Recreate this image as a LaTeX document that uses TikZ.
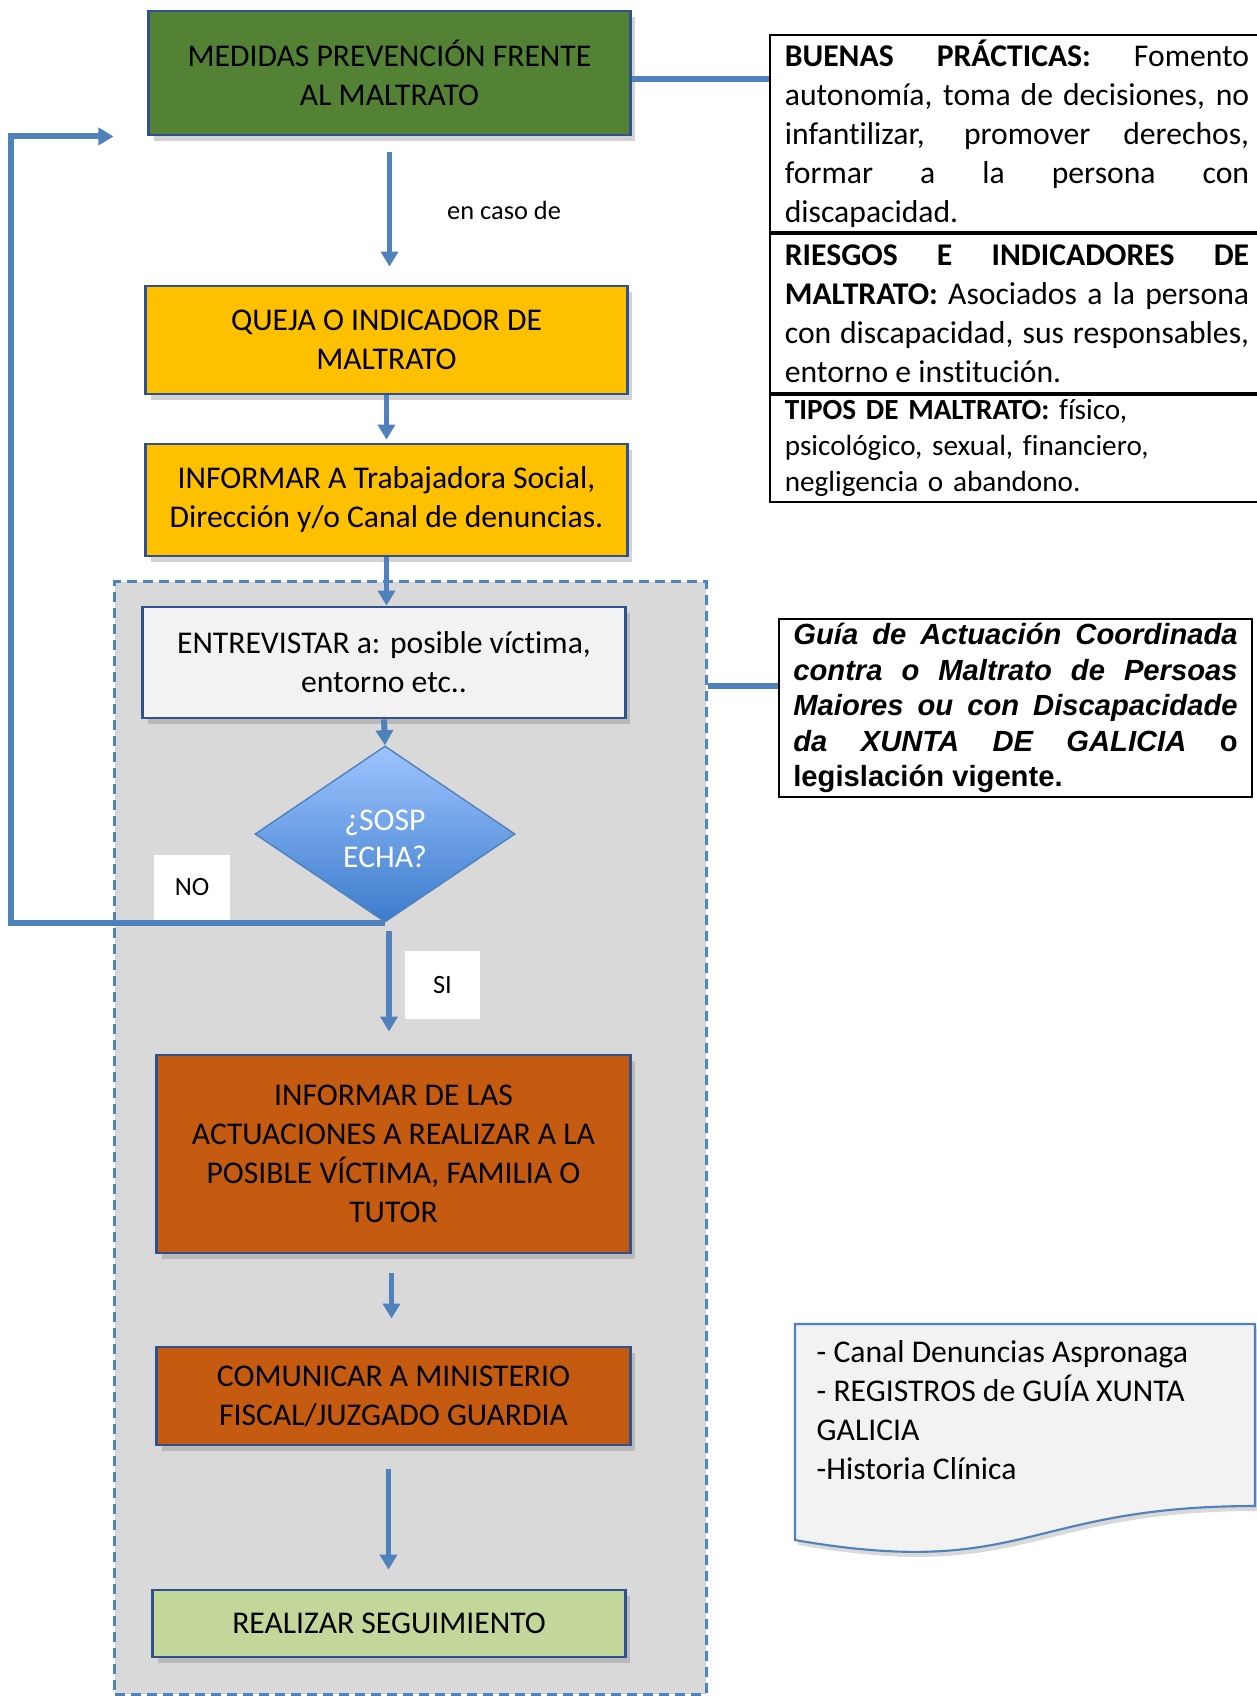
\documentclass[tikz,border=0pt]{standalone}
\usepackage{fontspec}
\setmainfont{Carlito}[Ligatures=NoCommon]
\newfontfamily\arialfont{Liberation Sans}
\usetikzlibrary{shapes.geometric, arrows.meta, positioning, calc, backgrounds, shadows}
\hyphenpenalty=10000
\exhyphenpenalty=10000
\tolerance=10000
\definecolor{flowblue}{RGB}{79,129,189}
\definecolor{edgeblue}{RGB}{47,82,143}
\definecolor{medidasgreen}{RGB}{84,130,53}
\definecolor{quejayellow}{RGB}{255,192,0}
\definecolor{paleface}{RGB}{242,242,242}
\definecolor{zonegray}{RGB}{217,217,217}
\definecolor{actionorange}{RGB}{197,90,17}
\definecolor{followgreen}{RGB}{196,215,155}
\definecolor{diamondtop}{RGB}{158,196,255}
\definecolor{diamondbottom}{RGB}{60,124,204}
\tikzset{
    box/.style={
        rectangle, draw=edgeblue, line width=0.8pt, text centered, align=center,
        inner sep=0pt, font=\fontsize{9}{11.1}\selectfont,
        drop shadow={shadow xshift=0.05cm, shadow yshift=-0.06cm, opacity=0.35}
    },
    decision/.style={
        diamond, draw=flowblue, line width=0.4pt, top color=diamondtop, bottom color=diamondbottom,
        text=white, align=center, inner sep=0pt, font=\fontsize{9}{10.5}\selectfont
    },
    zone/.style={
        rectangle, draw=flowblue, fill=zonegray, line width=0.85pt,
        dash pattern=on 0.1cm off 0.06cm
    },
    tablerow/.style={
        rectangle, draw=black, line width=0.5pt, text width=4.64cm, inner xsep=0.15cm,
        inner ysep=0pt, minimum width=4.94cm, align=justify,
        font=\fontsize{9}{11.1}\selectfont
    },
    notebox/.style={
        rectangle, draw=black, line width=0.6pt, text width=4.44cm, inner xsep=0.14cm,
        inner ysep=0pt, align=justify,
        font=\arialfont\bfseries\itshape\fontsize{8.3}{10.1}\selectfont
    },
    docshape/.style={
        draw=flowblue, fill=paleface, line width=0.6pt,
        drop shadow={shadow xshift=0.03cm, shadow yshift=-0.05cm, opacity=0.3}
    },
    doctext/.style={align=left, inner sep=0pt, font=\fontsize{9}{11.1}\selectfont},
    tag/.style={fill=white, inner sep=0pt, font=\fontsize{7.5}{9}\selectfont},
    flow/.style={draw=flowblue, line width=1.7pt, -{Triangle[length=0.15cm, width=0.17cm]}},
    link/.style={draw=flowblue, line width=1.5pt},
    casolabel/.style={font=\fontsize{7.5}{9}\selectfont}
}
\begin{document}
\begin{tikzpicture}[x=0.01cm, y=-0.01cm]
\useasboundingbox (0,0) rectangle (1256,1696);

% Main flow
\node[box, fill=medidasgreen, minimum width=4.81cm, minimum height=1.24cm] (medidas) at (389.5,73) {MEDIDAS PREVENCIÓN FRENTE\\AL MALTRATO};
\node[box, fill=quejayellow, minimum width=4.81cm, minimum height=1.08cm] (queja) at (386.5,340) {QUEJA O INDICADOR DE\\MALTRATO};
\node[box, fill=quejayellow, minimum width=4.81cm, minimum height=1.12cm] (informar) at (386.5,500) {INFORMAR A Trabajadora Social,\\Dirección y/o Canal de denuncias.};

% Interview zone
\node[box, fill=paleface, minimum width=4.82cm, minimum height=1.11cm] (entrevistar) at (384,662.5) {ENTREVISTAR a: posible víctima,\\entorno etc..};
\node[decision, minimum width=2.6cm, minimum height=1.76cm] (sospecha) at (385,834) {\raisebox{-0.08cm}[\height][\depth]{\begin{tabular}{@{}c@{}}¿SOSP\\ECHA?\end{tabular}}};
\node[tag, minimum width=0.76cm, minimum height=0.65cm] (no) at (192,887.5) {NO};
\node[tag, minimum width=0.75cm, minimum height=0.68cm] (si) at (442.5,985) {SI};
\node[box, fill=actionorange, minimum width=4.73cm, minimum height=1.98cm] (actuaciones) at (393.5,1154) {INFORMAR DE LAS\\ACTUACIONES A REALIZAR A LA\\POSIBLE VÍCTIMA, FAMILIA O\\TUTOR};
\node[box, fill=actionorange, minimum width=4.73cm, minimum height=0.98cm] (comunicar) at (393.5,1396) {COMUNICAR A MINISTERIO\\FISCAL/JUZGADO GUARDIA};
\node[box, fill=followgreen, minimum width=4.72cm, minimum height=0.67cm] (seguimiento) at (389,1623.5) {REALIZAR SEGUIMIENTO};

% Side table
\node[tablerow, minimum height=1.97cm] (buenas) at (1017,133.5) {\textbf{BUENAS PRÁCTICAS:} Fomento\linebreak autonomía, toma de decisiones, no\linebreak infantilizar, promover derechos,\linebreak formar a la persona con\linebreak discapacidad.};
\node[tablerow, minimum height=1.59cm, below=0pt of buenas] (riesgos) {\textbf{RIESGOS E INDICADORES DE}\linebreak \textbf{MALTRATO:} Asociados a la persona\linebreak con discapacidad, sus responsables,\linebreak entorno e institución.};
\node[tablerow, minimum height=1.07cm, below=0pt of riesgos, align=left, font=\fontsize{8.3}{10.2}\selectfont] (tipos) {\textbf{TIPOS DE MALTRATO:} físico,\\psicológico, sexual, financiero,\\negligencia o abandono.};

% Guide note
\node[notebox, minimum width=4.73cm, minimum height=1.78cm] (guia) at (1015.5,708) {Guía de Actuación Coordinada\linebreak contra o Maltrato de Persoas\linebreak Maiores ou con Discapacidade\linebreak da XUNTA DE GALICIA {\upshape o}\linebreak {\upshape legislación vigente.}};

% Records document
\draw[docshape] (795,1324) -- (1255,1324) -- (1255,1506) .. controls (1025,1506) and (1025,1580) .. (795,1540) -- cycle;
\node[doctext, anchor=north west] (registros) at (816,1340) {- Canal Denuncias Aspronaga\\- REGISTROS de GUÍA XUNTA\\GALICIA\\-Historia Clínica};

% Connections
\coordinate (retorno) at ($(medidas.south west)+(-34,0)$);
\coordinate (guiain) at ([yshift=0.22cm]guia.west);
\draw[flow, shorten <=0.16cm, shorten >=0.18cm] (medidas.south) -- (medidas.south |- queja.north) node[casolabel, midway, right=0.43cm] {en caso de};
\draw[flow, shorten >=0.03cm] (queja.south) -- (queja.south |- informar.north);
\draw[flow] (informar.south) -- (informar.south |- entrevistar.north);
\draw[flow] (entrevistar.south) -- (sospecha.north);
\draw[flow] (sospecha.south) -- ++(-374,0) |- (retorno);
\draw[flow, shorten <=0.08cm, shorten >=0.22cm] ([xshift=0.04cm]sospecha.south) -- ([xshift=0.04cm]sospecha.south |- actuaciones.north);
\draw[flow, shorten <=0.19cm, shorten >=0.27cm] ([xshift=-0.02cm]actuaciones.south) -- ([xshift=-0.02cm]actuaciones.south |- comunicar.north);
\draw[flow, shorten <=0.23cm, shorten >=0.19cm] ([xshift=-0.05cm]comunicar.south) -- ([xshift=-0.05cm]comunicar.south |- seguimiento.north);
\draw[link] ([yshift=-0.06cm]medidas.east) -- ([yshift=-0.06cm]medidas.east -| buenas.west);

% Zone background
\begin{scope}[on background layer]
\node[zone, minimum width=5.91cm, minimum height=11.12cm] (zona) at (410.5,1138) {};
\end{scope}
\draw[link] (zona.east |- guiain) -- (guiain);

\end{tikzpicture}
\end{document}
